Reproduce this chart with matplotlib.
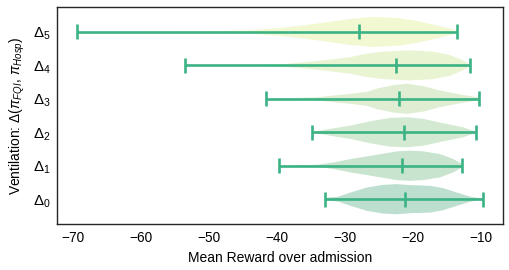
import matplotlib
matplotlib.use("Agg")
import matplotlib.pyplot as plt
import numpy as np

plt.rcParams['font.family'] = ['Liberation Sans', 'DejaVu Sans']
plt.rcParams['mathtext.fontset'] = 'custom'
plt.rcParams['mathtext.rm'] = 'Liberation Sans'
plt.rcParams['mathtext.it'] = 'Liberation Sans:italic'

labels = [r'$\Delta_0$', r'$\Delta_1$', r'$\Delta_2$', r'$\Delta_3$', r'$\Delta_4$', r'$\Delta_5$']

mins = [-32.9, -39.7, -34.8, -41.5, -53.4, -69.3]
maxs = [-9.7, -12.7, -10.7, -10.3, -11.6, -13.4]
medians = [-21.1, -21.6, -21.2, -22.0, -22.4, -27.9]

# density profile (reward value, relative half width)
d0_x = [-32.9, -31.0, -29.1, -26.7, -24.3, -22.3, -20.4, -17.4, -15.5, -13.5, -11.6, -9.7]
d0_w = [4, 7, 20, 35, 43, 45, 42, 40, 33, 20, 8, 1]
d1_x = [-39.7, -34.0, -31.6, -29.1, -25.2, -22.3, -20.4, -18.4, -16.0, -14.0, -12.7]
d1_w = [0, 3, 10, 20, 33, 43, 45, 43, 35, 20, 5]
d2_x = [-34.8, -34.0, -29.1, -26.2, -23.3, -20.8, -18.4, -15.5, -12.6, -10.7]
d2_w = [0, 4, 20, 33, 43, 45, 40, 27, 15, 2]
d3_x = [-41.5, -38.9, -34.0, -29.1, -26.7, -25.2, -22.8, -20.8, -18.4, -16.0, -13.5, -10.6, -10.3]
d3_w = [0, 1, 5, 15, 21, 31, 41, 45, 38, 25, 15, 5, 1]
d4_x = [-53.4, -45.0, -38.9, -34.0, -29.1, -26.7, -24.3, -20.4, -17.0, -14.5, -12.6, -11.6]
d4_w = [0, 1, 4, 13, 25, 35, 41, 45, 41, 31, 15, 3]
d5_x = [-69.3, -60.0, -50.0, -43.7, -38.9, -34.0, -29.1, -25.8, -22.0, -19.4, -17.0, -14.5, -13.4]
d5_w = [0, 0.5, 1.5, 5, 13, 25, 39, 45, 41, 33, 22, 10, 2]

profiles_x = [d0_x, d1_x, d2_x, d3_x, d4_x, d5_x]
profiles_w = [d0_w, d1_w, d2_w, d3_w, d4_w, d5_w]

body_colors = ['#bcdfcf', '#c8e4cf', '#d3e9d1', '#dfeed2', '#e9f4d2', '#f2f8d2']
line_color = '#3bb384'

stats = []
for i in range(6):
    stats.append({
        'coords': np.array(profiles_x[i]),
        'vals': np.array(profiles_w[i], dtype=float),
        'mean': medians[i],
        'median': medians[i],
        'min': mins[i],
        'max': maxs[i],
    })

fig, ax = plt.subplots(figsize=(5.1, 2.7), dpi=100)
fig.subplots_adjust(left=0.112, right=0.986, top=0.974, bottom=0.170)

parts = ax.violin(stats, positions=range(6), vert=False, widths=0.9,
                  showmeans=False, showextrema=True, showmedians=True)
for body, c in zip(parts['bodies'], body_colors):
    body.set_facecolor(c)
    body.set_edgecolor('none')
    body.set_alpha(1)
for key in ['cmins', 'cmaxes', 'cbars', 'cmedians']:
    parts[key].set_color(line_color)
    parts[key].set_linewidth(1.9)

ax.set_yticks(range(6))
ax.set_yticklabels(labels)
ax.tick_params(axis='both', length=0, labelsize=9.8, pad=5)
ax.tick_params(axis='y', labelsize=10.8)
ax.set_xlabel('Mean Reward over admission', fontsize=10)
ax.set_ylabel(r'Ventilation: $\Delta(\pi_{FQI},\, \pi_{Hosp})$', fontsize=10)
for s in ax.spines.values():
    s.set_color('#262626')
    s.set_linewidth(1.0)

plt.savefig('out.png', dpi=100)
